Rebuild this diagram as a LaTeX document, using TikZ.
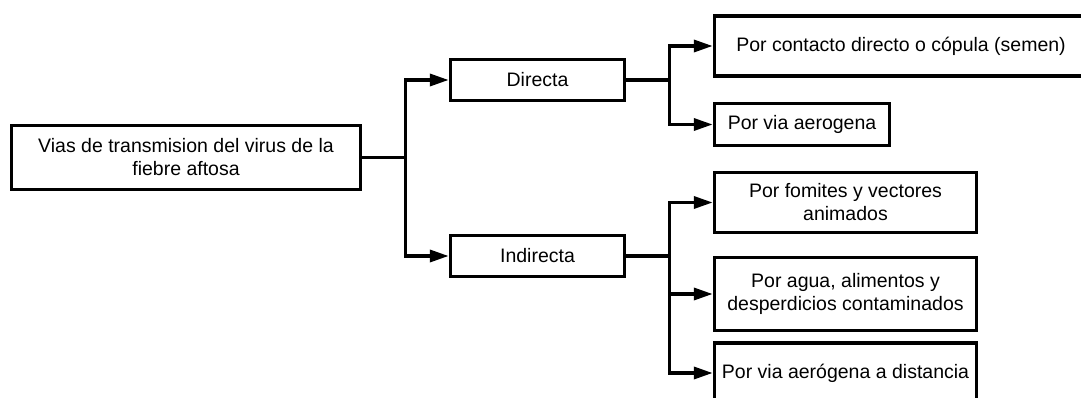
\documentclass[tikz,border=0pt]{standalone}
\usepackage{fontspec}
\setmainfont{Liberation Sans}
\usetikzlibrary{arrows.meta, positioning}

\begin{document}
\begin{tikzpicture}[x=1pt, y=-1pt,
                    box/.style={draw, line width=3.5pt, fill=white, align=center, inner sep=0pt,
                        font=\fontsize{19.5}{23}\selectfont},
                    wire/.style={line width=3.5pt},
                    link/.style={wire, -{Triangle[length=19pt, width=12pt]}}]
                    \useasboundingbox (0, 0) rectangle (1081, 398);

                    \node[box, minimum width=349pt, minimum height=64pt] (V) at (186, 157.5) {Vias de transmision del virus de la\\fiebre aftosa};
                    \node[box, minimum width=174pt, minimum height=41pt] (D) at (537.5, 80) {Directa};
                    \node[box, minimum width=174pt, minimum height=41pt] (I) at (537.5, 256) {Indirecta};

                    \node[box, minimum width=373pt, minimum height=60pt] (D1) at (901, 46) {Por contacto directo o cópula (semen)};
                    \node[box, minimum width=175pt, minimum height=42pt] (D2) at (802, 124.5) {Por via aerogena};
                    \node[box, minimum width=262pt, minimum height=60pt] (I1) at (845.5, 202.5) {Por fomites y vectores\\animados};
                    \node[box, minimum width=262pt, minimum height=73pt] (I2) at (845.5, 294) {Por agua, alimentos y\\desperdicios contaminados};
                    \node[box, minimum width=262pt, minimum height=60pt] (I3) at (845.5, 373) {Por via aerógena a distancia};

                    \coordinate[right = 43pt of V.east] (fV);
                    \coordinate[right = 43pt of D.east] (fD);
                    \coordinate[right = 43pt of I.east] (fI);

                    \draw[wire] (V) -- (fV);
                    \draw[link] (fV) |- (D);
                    \draw[link] (fV) |- (I);

                    \draw[wire] (D) -- (fD);
                    \draw[link] (fD) |- (D1.west);
                    \draw[link] (fD) |- (D2);

                    \draw[wire] (I) -- (fI);
                    \draw[link] (fI) |- (I1);
                    \draw[link] (fI) |- (I2);
                    \draw[link] (fI) |- (I3.west);
            \end{tikzpicture}
\end{document}
